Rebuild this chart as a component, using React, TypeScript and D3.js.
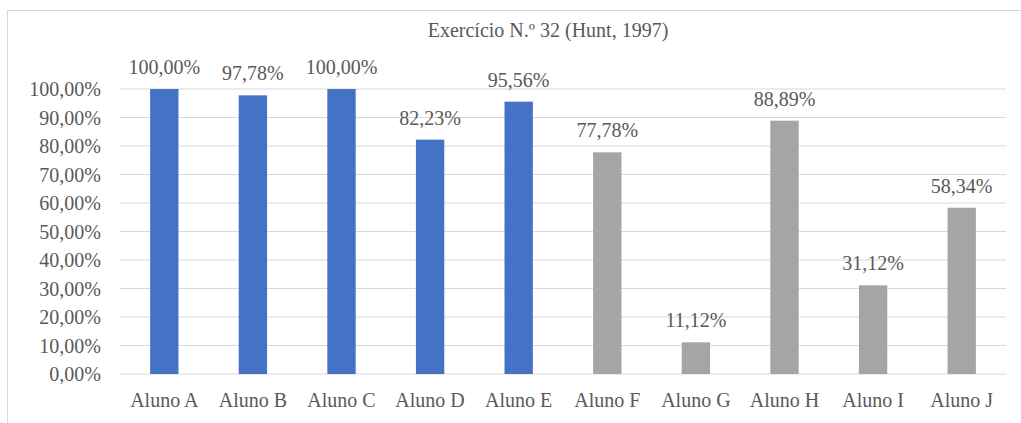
import React, { useEffect, useRef } from 'react';
import * as d3 from 'd3';

const categories = ['Aluno A', 'Aluno B', 'Aluno C', 'Aluno D', 'Aluno E', 'Aluno F', 'Aluno G', 'Aluno H', 'Aluno I', 'Aluno J'];
const values = [100.0, 97.78, 100.0, 82.23, 95.56, 77.78, 11.12, 88.89, 31.12, 58.34];
const groups = ['blue', 'blue', 'blue', 'blue', 'blue', 'gray', 'gray', 'gray', 'gray', 'gray'];
const yTicks = [0, 10, 20, 30, 40, 50, 60, 70, 80, 90, 100];
const title = 'Exercício N.º 32 (Hunt, 1997)';

const fmt = (v: number) => v.toFixed(2).replace('.', ',') + '%';

const App: React.FC = () => {
  const svgRef = useRef<SVGSVGElement>(null);

  useEffect(() => {
    if (!svgRef.current) return;
    const svg = d3.select(svgRef.current);
    svg.selectAll('*').remove();

    const width = 1021;
    const height = 423;
    const font = "'Liberation Serif', 'Times New Roman', Times, 'DejaVu Serif', serif";
    const textColor = '#595959';

    // chart frame (only top and left edges visible in the crop)
    svg.append('rect')
      .attr('x', 7.5).attr('y', 10.5)
      .attr('width', 1100).attr('height', 500)
      .attr('fill', 'white')
      .attr('stroke', '#d9d9d9');

    const x = d3.scaleBand().domain(categories).range([120, 1006]).paddingInner(0.68).paddingOuter(0.34);
    const y = d3.scaleLinear().domain([0, 100]).range([374, 89]);

    // gridlines
    svg.append('g')
      .selectAll('line')
      .data(yTicks)
      .enter()
      .append('line')
      .attr('x1', 120).attr('x2', 1006)
      .attr('y1', d => y(d)).attr('y2', d => y(d))
      .attr('stroke', '#d9d9d9')
      .attr('stroke-width', 1.2);

    const txt = (sel: d3.Selection<SVGTextElement, any, any, any>) =>
      sel.style('font-family', font).style('font-size', '20px').attr('fill', textColor);

    // y tick labels
    svg.append('g')
      .selectAll('text')
      .data(yTicks)
      .enter()
      .append('text')
      .attr('x', 101)
      .attr('y', d => y(d))
      .attr('dy', '0.35em')
      .attr('text-anchor', 'end')
      .call(txt)
      .text(d => fmt(d));

    const data = categories.map((c, i) => ({ c, v: values[i], g: groups[i] }));

    // bars
    svg.append('g')
      .selectAll('rect')
      .data(data)
      .enter()
      .append('rect')
      .attr('x', d => x(d.c)!)
      .attr('y', d => y(d.v))
      .attr('width', x.bandwidth())
      .attr('height', d => y(0) - y(d.v))
      .attr('fill', d => (d.g === 'blue' ? '#4472c4' : '#a5a5a5'));

    // value labels
    svg.append('g')
      .selectAll('text')
      .data(data)
      .enter()
      .append('text')
      .attr('x', d => x(d.c)! + x.bandwidth() / 2)
      .attr('y', d => y(d.v) - 15)
      .attr('text-anchor', 'middle')
      .call(txt)
      .text(d => fmt(d.v));

    // category labels
    svg.append('g')
      .selectAll('text')
      .data(categories)
      .enter()
      .append('text')
      .attr('x', d => x(d)! + x.bandwidth() / 2)
      .attr('y', 400)
      .attr('dy', '0.35em')
      .attr('text-anchor', 'middle')
      .call(txt)
      .text(d => d);

    // title
    svg.append('text')
      .attr('x', 548)
      .attr('y', 30)
      .attr('dy', '0.35em')
      .attr('text-anchor', 'middle')
      .call(txt)
      .text(title);

    svg.attr('viewBox', `0 0 ${width} ${height}`);
  }, []);

  return (
    <svg
      ref={svgRef}
      width={1021}
      height={423}
      style={{ position: 'absolute', left: 0, top: 0, display: 'block', background: 'white' }}
    />
  );
};

export default App;
